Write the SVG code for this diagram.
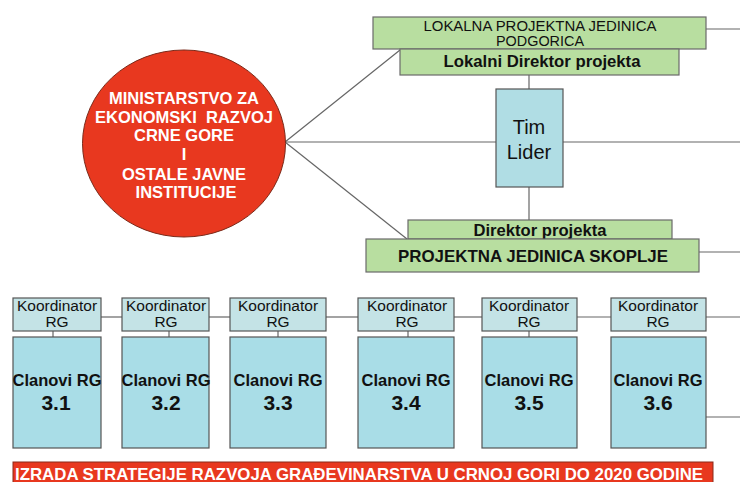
<svg xmlns="http://www.w3.org/2000/svg" width="740" height="482" viewBox="0 0 740 482">
<style>
.g{fill:#b8dea0;stroke:#6a6a6a;stroke-width:1.2}
.b{fill:#a9dde7;stroke:#555;stroke-width:1.2}
.k{fill:#c4e3e6;stroke:#555;stroke-width:1.2}
.ln{stroke:#666;stroke-width:1.2;fill:none}
text{font-family:"Liberation Sans",Arial,sans-serif;fill:#111;text-anchor:middle}
.bd{font-weight:bold}
.w{fill:#fff;font-weight:bold}
</style>
<rect width="740" height="482" fill="#fff"/>
<g id="connectors">
<line class="ln" x1="285" y1="142" x2="400" y2="50"/>
<line class="ln" x1="285" y1="142" x2="407" y2="239"/>
<line class="ln" x1="285" y1="142" x2="496" y2="142"/>
<line class="ln" x1="563" y1="142" x2="740" y2="142"/>
<line class="ln" x1="529" y1="75" x2="529" y2="89"/>
<line class="ln" x1="529" y1="187" x2="529" y2="220"/>
<line class="ln" x1="706" y1="29" x2="740" y2="29"/>
<line class="ln" x1="699" y1="252" x2="740" y2="252"/>
<line class="ln" x1="101" y1="317" x2="122" y2="317"/>
<line class="ln" x1="209" y1="317" x2="230" y2="317"/>
<line class="ln" x1="326" y1="317" x2="358" y2="317"/>
<line class="ln" x1="454" y1="317" x2="482" y2="317"/>
<line class="ln" x1="577" y1="317" x2="611" y2="317"/>
<line class="ln" x1="706" y1="317" x2="740" y2="317"/>
<line class="ln" x1="706" y1="417" x2="740" y2="417"/>
<line class="ln" x1="53" y1="331" x2="53" y2="337"/>
<line class="ln" x1="169" y1="331" x2="169" y2="337"/>
<line class="ln" x1="278" y1="331" x2="278" y2="337"/>
<line class="ln" x1="408" y1="331" x2="408" y2="337"/>
<line class="ln" x1="529" y1="331" x2="529" y2="337"/>
</g>
<g id="ministarstvo">
<ellipse cx="184" cy="143.5" rx="101.5" ry="93.5" fill="#e8381f" stroke="#7a2a1a" stroke-width="1"/>
<text class="w" x="184" y="104" font-size="16.5">MINISTARSTVO ZA</text>
<text class="w" x="184" y="123" font-size="16.5" xml:space="preserve">EKONOMSKI  RAZVOJ</text>
<text class="w" x="184" y="141" font-size="16.5">CRNE GORE</text>
<text class="w" x="184" y="160" font-size="16.5">I</text>
<text class="w" x="184" y="180" font-size="16.5">OSTALE JAVNE</text>
<text class="w" x="186" y="198" font-size="16.5">INSTITUCIJE</text>
</g>
<g id="lokalna-jedinica">
<rect class="g" x="373" y="17" width="333" height="32"/>
<text x="540" y="31" font-size="14" textLength="233" lengthAdjust="spacingAndGlyphs">LOKALNA PROJEKTNA JEDINICA</text>
<text x="540" y="46" font-size="14" textLength="88" lengthAdjust="spacingAndGlyphs">PODGORICA</text>
</g>
<g id="lokalni-direktor">
<rect class="g" x="400" y="49" width="279" height="26"/>
<text class="bd" x="542" y="67" font-size="16.5" textLength="197" lengthAdjust="spacingAndGlyphs">Lokalni Direktor projekta</text>
</g>
<g id="tim-lider">
<rect x="496" y="89" width="67" height="98" fill="#b0dde4" stroke="#555" stroke-width="1.2"/>
<text x="529" y="134" font-size="20">Tim</text>
<text x="529" y="159" font-size="20">Lider</text>
</g>
<g id="direktor-projekta">
<rect class="g" x="408" y="220" width="264" height="19"/>
<text class="bd" x="540" y="236" font-size="16.5" textLength="133" lengthAdjust="spacingAndGlyphs">Direktor projekta</text>
</g>
<g id="jedinica-skoplje">
<rect class="g" x="366" y="239" width="333" height="33"/>
<text class="bd" x="533" y="262" font-size="16.5" textLength="270" lengthAdjust="spacingAndGlyphs">PROJEKTNA JEDINICA SKOPLJE</text>
</g>
<g id="rg1">
<rect class="k" x="13" y="298" width="88" height="33"/>
<text x="57" y="311" font-size="15.5">Koordinator</text><text x="57" y="327" font-size="15.5">RG</text>
<rect class="b" x="13" y="337" width="88" height="111"/>
<text class="bd" x="57" y="386" font-size="16.5">Clanovi RG</text><text class="bd" x="56" y="410" font-size="21">3.1</text>
</g>
<g id="rg2">
<rect class="k" x="122" y="298" width="87" height="33"/>
<text x="166" y="311" font-size="15.5">Koordinator</text><text x="166" y="327" font-size="15.5">RG</text>
<rect class="b" x="122" y="337" width="87" height="111"/>
<text class="bd" x="166" y="386" font-size="16.5">Clanovi RG</text><text class="bd" x="166" y="410" font-size="21">3.2</text>
</g>
<g id="rg3">
<rect class="k" x="230" y="298" width="96" height="33"/>
<text x="278" y="311" font-size="15.5">Koordinator</text><text x="278" y="327" font-size="15.5">RG</text>
<rect class="b" x="230" y="337" width="96" height="111"/>
<text class="bd" x="278" y="386" font-size="16.5">Clanovi RG</text><text class="bd" x="278" y="410" font-size="21">3.3</text>
</g>
<g id="rg4">
<rect class="k" x="358" y="298" width="96" height="33"/>
<text x="407" y="311" font-size="15.5">Koordinator</text><text x="407" y="327" font-size="15.5">RG</text>
<rect class="b" x="358" y="337" width="96" height="111"/>
<text class="bd" x="406" y="386" font-size="16.5">Clanovi RG</text><text class="bd" x="406" y="410" font-size="21">3.4</text>
</g>
<g id="rg5">
<rect class="k" x="482" y="298" width="95" height="33"/>
<text x="529" y="311" font-size="15.5">Koordinator</text><text x="529" y="327" font-size="15.5">RG</text>
<rect class="b" x="482" y="337" width="95" height="111"/>
<text class="bd" x="529" y="386" font-size="16.5">Clanovi RG</text><text class="bd" x="529" y="410" font-size="21">3.5</text>
</g>
<g id="rg6">
<rect class="k" x="611" y="298" width="95" height="33"/>
<text x="658" y="311" font-size="15.5">Koordinator</text><text x="658" y="327" font-size="15.5">RG</text>
<rect class="b" x="611" y="337" width="95" height="111"/>
<text class="bd" x="658" y="386" font-size="16.5">Clanovi RG</text><text class="bd" x="658" y="410" font-size="21">3.6</text>
</g>
<g id="banner">
<rect x="13" y="462" width="700" height="22" fill="#e8381f" stroke="#8a2a1a" stroke-width="1"/>
<text class="w" x="15" y="480" font-size="16.5" style="text-anchor:start" textLength="688" lengthAdjust="spacingAndGlyphs">IZRADA STRATEGIJE RAZVOJA GRAĐEVINARSTVA U CRNOJ GORI DO 2020 GODINE</text>
</g>
</svg>
